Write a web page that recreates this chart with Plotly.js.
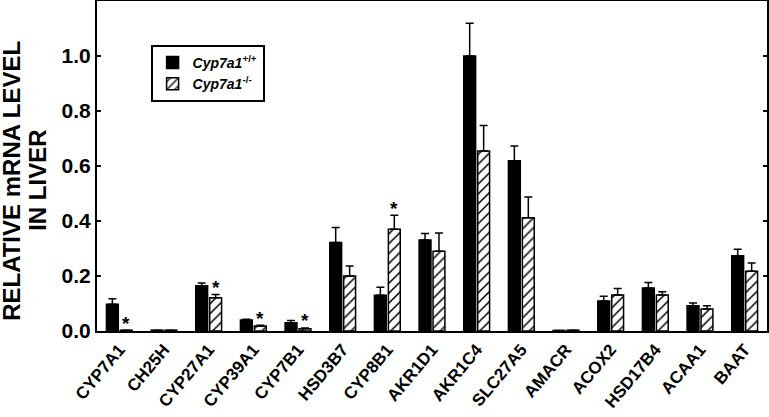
<!DOCTYPE html>
<html>
<head>
<meta charset="utf-8">
<script src="https://cdn.plot.ly/plotly-3.0.1.min.js"></script>
<style>
  html, body { margin: 0; padding: 0; background: #fff; }
  #plotArea { width: 769px; height: 417px; }
</style>
</head>
<body>
<div id="plotArea"></div>
<script>
// genes on the x axis
var genes = ["CYP7A1", "CH25H", "CYP27A1", "CYP39A1", "CYP7B1", "HSD3B7", "CYP8B1",
    "AKR1D1", "AKR1C4", "SLC27A5", "AMACR", "ACOX2", "HSD17B4", "ACAA1", "BAAT"];

// Cyp7a1 +/+ (black bars) and upper error
var wt    = [0.097, 0.003, 0.165, 0.040, 0.030, 0.322, 0.130, 0.331, 1.000, 0.619, 0.002, 0.109, 0.156, 0.092, 0.274];
var wtErr = [0.020, 0.000, 0.010, 0.003, 0.008, 0.054, 0.029, 0.024, 0.119, 0.054, 0.000, 0.017, 0.020, 0.010, 0.023];

// Cyp7a1 -/- (hatched bars) and upper error
var ko    = [0.003, 0.003, 0.121, 0.018, 0.008, 0.200, 0.370, 0.290, 0.655, 0.412, 0.003, 0.131, 0.131, 0.080, 0.217];
var koErr = [0.000, 0.000, 0.012, 0.003, 0.003, 0.036, 0.051, 0.066, 0.092, 0.075, 0.000, 0.024, 0.012, 0.012, 0.030];

// significant differences marked with *
var starred = ["CYP7A1", "CYP27A1", "CYP39A1", "CYP7B1", "CYP8B1"];

var yTicks = [0, 0.2, 0.4, 0.6, 0.8, 1.0];
var yTickText = ["0.0", "0.2", "0.4", "0.6", "0.8", "1.0"];
var yTitleLines = ["RELATIVE mRNA LEVEL", "IN LIVER"];

var zeros = genes.map(function () { return 0; });
var font = "Liberation Sans, Arial, sans-serif";

var traceWT = {
    x: genes, y: wt, type: "bar",
    name: "<i>Cyp7a1</i><sup>+/+</sup>",
    marker: {color: "black", line: {color: "black", width: 1.5}},
    error_y: {type: "data", symmetric: false, array: wtErr, arrayminus: zeros,
        color: "black", thickness: 1.5, width: 4}
};

var traceKO = {
    x: genes, y: ko, type: "bar",
    name: "<i>Cyp7a1</i><sup>-/-</sup>",
    marker: {color: "white", line: {color: "black", width: 1.5},
        pattern: {shape: "/", fgcolor: "black", bgcolor: "white", size: 7, solidity: 0.22}},
    error_y: {type: "data", symmetric: false, array: koErr, arrayminus: zeros,
        color: "black", thickness: 1.5, width: 4}
};

// offset of the hatched bar from the category centre (bargap 0.375)
var koShift = (1 - 0.375) / 4;
var notes = starred.map(function (g) {
    var i = genes.indexOf(g);
    return {
        x: i + koShift, y: ko[i] + koErr[i], xref: "x", yref: "y",
        text: "*", showarrow: false, yanchor: "middle", yshift: 7,
        font: {family: font, size: 19, color: "black", weight: "bold"}
    };
});

// y title: two rotated lines, placed one by one for tighter spacing
var titleShift = [-85, -59];
yTitleLines.forEach(function (line, k) {
    notes.push({
        text: line, textangle: -90,
        xref: "paper", yref: "paper", x: 0, y: 0.455, xanchor: "center", yanchor: "middle",
        xshift: titleShift[k], showarrow: false,
        font: {family: font, size: 24, color: "black", weight: "bold"}
    });
});

var layout = {
    width: 769, height: 417,
    margin: {l: 97, r: 2, t: 1, b: 86},
    paper_bgcolor: "white", plot_bgcolor: "white",
    barmode: "group", bargap: 0.375, bargroupgap: 0.15,
    showlegend: true,
    legend: {
        x: 0.08, y: 0.867, xanchor: "left", yanchor: "top",
        bordercolor: "black", borderwidth: 2, bgcolor: "white",
        font: {family: font, size: 14, color: "black", weight: "bold"},
        itemwidth: 30, tracegroupgap: 2
    },
    xaxis: {
        type: "category", range: [-0.5, 14.5],
        showline: true, linecolor: "black", linewidth: 2, mirror: true,
        ticks: "", tickangle: -50, showgrid: false, zeroline: false,
        tickfont: {family: font, size: 17, color: "black", weight: "bold"}
    },
    yaxis: {
        range: [0, 1.2], tickvals: yTicks, ticktext: yTickText,
        showline: true, linecolor: "black", linewidth: 2, mirror: "ticks",
        ticks: "inside", ticklen: 4, tickwidth: 1.5, tickcolor: "black",
        showgrid: false, zeroline: false,
        tickfont: {family: font, size: 21, color: "black", weight: "bold"}
    },
    annotations: notes
};

Plotly.newPlot("plotArea", [traceWT, traceKO], layout, {staticPlot: true});
</script>
</body>
</html>
